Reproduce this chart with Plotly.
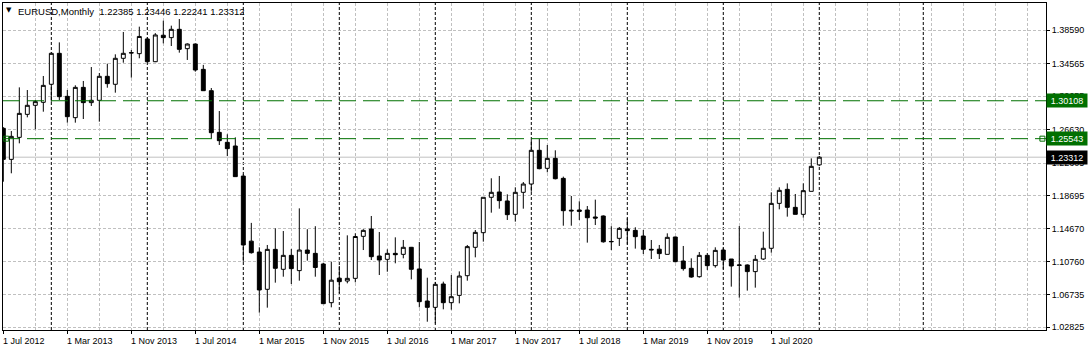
import plotly.graph_objects as go
import pandas as pd

# ---------------- data ----------------
symbol_title = "EURUSD,Monthly"
first_month = "2012-07-01"

opens = [1.2679, 1.2305, 1.2570, 1.2847, 1.2956, 1.2992, 1.3209, 1.3582, 1.3064, 1.2807,
         1.3172, 1.2988, 1.3016, 1.3305, 1.3209, 1.3522, 1.3585, 1.3578, 1.3755, 1.3481,
         1.3800, 1.3771, 1.3871, 1.3638, 1.3694, 1.3389, 1.3132, 1.2630, 1.2510, 1.2466,
         1.2104, 1.1320, 1.1189, 1.0740, 1.1221, 1.0981, 1.1149, 1.0965, 1.1213, 1.1173,
         1.1045, 1.0579, 1.0874, 1.0840, 1.0872, 1.1378, 1.1466, 1.1141, 1.1101, 1.1173,
         1.1161, 1.1246, 1.0985, 1.0599, 1.0523, 1.0804, 1.0579, 1.0667, 1.0904, 1.1246,
         1.1422, 1.1848, 1.1912, 1.1804, 1.1643, 1.1908, 1.2008, 1.2414, 1.2197, 1.2317,
         1.2076, 1.1693, 1.1695, 1.1695, 1.1611, 1.1623, 1.1312, 1.1354, 1.1467, 1.1450,
         1.1382, 1.1222, 1.1223, 1.1161, 1.1370, 1.1081, 1.0993, 1.0892, 1.1149, 1.1025,
         1.1213, 1.1105, 1.1027, 1.1033, 1.0953, 1.1105, 1.1234, 1.1775, 1.1944, 1.1727,
         1.1643, 1.1920, 1.22385]
highs = [1.2693, 1.2646, 1.3172, 1.3140, 1.3020, 1.3309, 1.3593, 1.3714, 1.3140, 1.3197,
         1.3249, 1.3417, 1.3345, 1.3457, 1.3570, 1.3839, 1.3622, 1.3903, 1.3775, 1.3825,
         1.3975, 1.3915, 1.3995, 1.3702, 1.3700, 1.3443, 1.3164, 1.2887, 1.2607, 1.2570,
         1.2125, 1.1540, 1.1246, 1.1274, 1.1474, 1.1442, 1.1225, 1.1715, 1.1464, 1.1500,
         1.1060, 1.1073, 1.1021, 1.1390, 1.1414, 1.1464, 1.1623, 1.1430, 1.1221, 1.1366,
         1.1334, 1.1250, 1.1310, 1.0880, 1.0829, 1.0832, 1.0912, 1.0956, 1.1274, 1.1454,
         1.1848, 1.2077, 1.2105, 1.1884, 1.1968, 1.2032, 1.2537, 1.2554, 1.2478, 1.2414,
         1.2097, 1.1864, 1.1800, 1.1743, 1.1820, 1.1630, 1.1500, 1.1490, 1.1595, 1.1487,
         1.1454, 1.1334, 1.1274, 1.1414, 1.1375, 1.1262, 1.1113, 1.1189, 1.1177, 1.1246,
         1.1240, 1.1105, 1.1502, 1.1040, 1.1153, 1.1434, 1.1908, 1.1968, 1.2016, 1.1888,
         1.2016, 1.2317, 1.23446]
lows = [1.2036, 1.2137, 1.2498, 1.2811, 1.2667, 1.2879, 1.2999, 1.3020, 1.2747, 1.2747,
        1.2791, 1.2948, 1.2759, 1.3168, 1.3108, 1.3469, 1.3289, 1.3522, 1.3477, 1.3476,
        1.3702, 1.3670, 1.3590, 1.3502, 1.3361, 1.3131, 1.2558, 1.2478, 1.2345, 1.2097,
        1.1073, 1.1170, 1.0459, 1.0519, 1.0820, 1.0892, 1.0804, 1.0844, 1.1085, 1.0892,
        1.0563, 1.0523, 1.0692, 1.0812, 1.0824, 1.1213, 1.1093, 1.0912, 1.0952, 1.1053,
        1.1113, 1.0860, 1.0523, 1.0350, 1.0330, 1.0499, 1.0495, 1.0571, 1.0844, 1.1125,
        1.1314, 1.1663, 1.1711, 1.1575, 1.1555, 1.1711, 1.1915, 1.2185, 1.2149, 1.2064,
        1.1506, 1.1506, 1.1575, 1.1302, 1.1514, 1.1302, 1.1213, 1.1262, 1.1280, 1.1230,
        1.1165, 1.1105, 1.1105, 1.1161, 1.1065, 1.0965, 1.0880, 1.0880, 1.0973, 1.1001,
        1.0981, 1.0772, 1.0639, 1.0724, 1.0760, 1.1093, 1.1181, 1.1703, 1.1615, 1.1643,
        1.1603, 1.1920, 1.22241]
closes = [1.2305, 1.2582, 1.2859, 1.2956, 1.3000, 1.3196, 1.3582, 1.3060, 1.2819, 1.3172,
          1.2988, 1.3016, 1.3305, 1.3217, 1.3522, 1.3582, 1.3590, 1.3785, 1.3481, 1.3803,
          1.3771, 1.3871, 1.3630, 1.3694, 1.3381, 1.3132, 1.2626, 1.2530, 1.2434, 1.2097,
          1.1274, 1.1181, 1.0732, 1.1221, 1.0993, 1.1149, 1.0989, 1.1213, 1.1173, 1.1003,
          1.0567, 1.0850, 1.0832, 1.0872, 1.1376, 1.1450, 1.1133, 1.1093, 1.1173, 1.1157,
          1.1246, 1.0981, 1.0591, 1.0523, 1.0800, 1.0579, 1.0651, 1.0900, 1.1254, 1.1426,
          1.1848, 1.1908, 1.1808, 1.1639, 1.1908, 1.2008, 1.2414, 1.2193, 1.2317, 1.2072,
          1.1687, 1.1685, 1.1679, 1.1602, 1.1598, 1.1312, 1.1316, 1.1474, 1.1446, 1.1374,
          1.1222, 1.1215, 1.1170, 1.1366, 1.1073, 1.0989, 1.0888, 1.1149, 1.1025, 1.1209,
          1.1093, 1.1021, 1.1033, 1.0953, 1.1101, 1.1234, 1.1775, 1.1932, 1.1727, 1.1643,
          1.1928, 1.2221, 1.23312]

price_tick_labels = ["1.02825", "1.06735", "1.10760", "1.14670", "1.18695",
                     "1.22605", "1.26630", "1.30655", "1.34565", "1.38590"]
level_lines = [1.30108, 1.25543]

# ---------------- layout constants ----------------
W, H = 1091, 351
M_L, M_R, M_T, M_B = 3, 45, 3, 21
X_RANGE = [-0.04, 130.34]
Y_RANGE = [1.0250, 1.4188]
FUTURE_SEPARATOR = 115
GREEN = "#007000"
GRID = "#c0c0c0"
FONT = "Liberation Sans, Arial, sans-serif"

n = len(opens)
x_idx = list(range(n))
months = pd.date_range(first_month, periods=n, freq="MS")
label_idx = list(range(0, n, 8))
year_seps = [i for i, m in enumerate(months) if m.month == 1] + [FUTURE_SEPARATOR]

fig = go.Figure()
fig.add_trace(go.Candlestick(
    x=x_idx, open=opens, high=highs, low=lows, close=closes,
    increasing=dict(line=dict(color="black", width=1), fillcolor="white"),
    decreasing=dict(line=dict(color="black", width=1), fillcolor="black"),
    whiskerwidth=0, hoverinfo="skip", showlegend=False,
))

# selection squares of the 1.25543 line
fig.add_trace(go.Scatter(
    x=[X_RANGE[0] + 0.4, X_RANGE[1] - 0.45], y=[level_lines[1]] * 2, mode="markers",
    marker=dict(symbol="square-open", size=5, color=GREEN, line=dict(width=1, color=GREEN)),
    cliponaxis=False, hoverinfo="skip", showlegend=False,
))

shapes = []
for i in year_seps:
    shapes.append(dict(type="line", xref="x", yref="paper", x0=i, x1=i, y0=0, y1=1,
                       line=dict(color="black", width=1, dash="3px,2px"), layer="below"))
# bid line
shapes.append(dict(type="line", xref="paper", yref="y", x0=0, x1=1, y0=closes[-1], y1=closes[-1],
                   line=dict(color=GRID, width=1), layer="below"))
for lv in level_lines:
    shapes.append(dict(type="line", xref="paper", yref="y", x0=0, x1=1, y0=lv, y1=lv,
                       line=dict(color=GREEN, width=1, dash="17px,7px"), layer="above"))

annotations = []
header = f"{symbol_title}  {opens[-1]:.5f} {highs[-1]:.5f} {lows[-1]:.5f} {closes[-1]:.5f}"
annotations.append(dict(text="▼", xref="paper", yref="paper", x=0, y=1, xanchor="left",
                        yanchor="top", xshift=1, yshift=-1, showarrow=False,
                        font=dict(family="DejaVu Sans", size=7, color="black")))
annotations.append(dict(text=header, xref="paper", yref="paper", x=0, y=1, xanchor="left",
                        yanchor="top", xshift=13, yshift=-1, showarrow=False,
                        font=dict(family=FONT, size=9.5, color="black")))
for i in label_idx:
    annotations.append(dict(text=f"1 {months[i]:%b %Y}", xref="x", yref="paper", x=i, y=0,
                            xanchor="left", yanchor="top", xshift=-2, yshift=-4,
                            showarrow=False, font=dict(family=FONT, size=9, color="black")))
for lv, bg in [(level_lines[0], GREEN), (level_lines[1], GREEN), (closes[-1], "black")]:
    annotations.append(dict(text=f"{lv:.5f}", xref="paper", yref="y", x=1, y=lv,
                            xanchor="left", yanchor="middle", xshift=0, showarrow=False,
                            bgcolor=bg, borderpad=1, width=38, height=11,
                            font=dict(family=FONT, size=9, color="white")))

fig.update_layout(
    width=W, height=H, margin=dict(l=M_L, r=M_R, t=M_T, b=M_B, pad=0),
    paper_bgcolor="white", plot_bgcolor="white",
    shapes=shapes, annotations=annotations, showlegend=False, hovermode=False,
    boxgap=0.3, boxgroupgap=0.3,
)
fig.update_xaxes(
    range=X_RANGE, rangeslider=dict(visible=False),
    tickmode="array", tickvals=label_idx, showticklabels=False,
    ticks="outside", ticklen=3, tickcolor="black",
    showgrid=True, gridcolor=GRID, gridwidth=1, griddash="3px,2px",
    minor=dict(tickmode="linear", tick0=0, dtick=4, showgrid=True, gridcolor=GRID,
               gridwidth=1, griddash="3px,2px", ticks=""),
    showline=True, linecolor="black", linewidth=1, mirror=True, zeroline=False,
)
fig.update_yaxes(
    range=Y_RANGE, side="right",
    tickmode="array", tickvals=[float(t) for t in price_tick_labels], ticktext=price_tick_labels,
    ticks="outside", ticklen=3, tickcolor="black",
    tickfont=dict(family=FONT, size=9, color="black"),
    showgrid=True, gridcolor=GRID, gridwidth=1, griddash="3px,2px",
    showline=True, linecolor="black", linewidth=1, mirror=True, zeroline=False,
)

fig.write_html("out.html")
